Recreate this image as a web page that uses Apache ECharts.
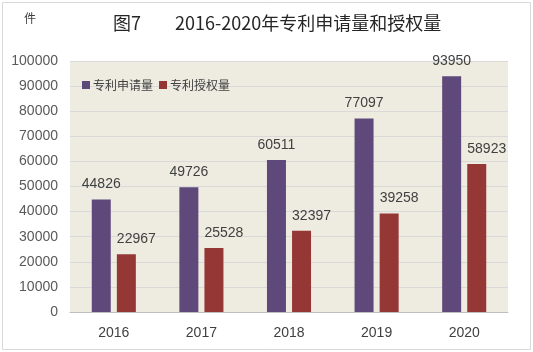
<!DOCTYPE html>
<html lang="zh">
<head>
  <meta charset="utf-8">
  <title>图7 2016-2020年专利申请量和授权量</title>
  <style>
    html, body { margin: 0; padding: 0; background: #fff; }
    #chart1 { width: 533px; height: 352px; }
  </style>
</head>
<body>

<script src="https://cdn.jsdelivr.net/npm/echarts@6/dist/echarts.min.js"></script>

<div id="chart1"></div>

<script>
  var years = ['2016', '2017', '2018', '2019', '2020'];
  var seriesNames = ['专利申请量', '专利授权量'];
  var applications = [44826, 49726, 60511, 77097, 93950];
  var grants = [22967, 25528, 32397, 39258, 58923];
  var colores = ['#5f497a', '#953735'];

  var font = '"Liberation Sans", "Noto Sans CJK SC", sans-serif';
  var cjkFont = '"Noto Sans CJK SC", sans-serif';

  var chart1 = echarts.init(document.getElementById('chart1'));

  // the label of the second bar sits a bit to the right, like in the original
  function makeSeries(name, data, dx) {
    return {
      name: name,
      type: 'bar',
      barWidth: 19,
      barGap: '32%',
      data: data,
      label: {
        show: true,
        position: 'top',
        distance: 8,
        offset: [dx, 0],
        color: '#404040',
        fontSize: 14,
        fontFamily: font
      }
    };
  }

  var option = {
    animation: false,
    color: colores,
    title: [
      {
        text: '图7',
        left: 108,
        top: 9,
        textStyle: { fontSize: 18, fontWeight: 'normal', color: '#262626', fontFamily: cjkFont }
      },
      {
        text: '2016-2020年专利申请量和授权量',
        left: 170,
        top: 9,
        textStyle: { fontSize: 18, fontWeight: 'normal', color: '#262626', fontFamily: cjkFont }
      },
      {
        text: '件',
        left: 19,
        top: 7,
        textStyle: { fontSize: 12, fontWeight: 'normal', color: '#404040', fontFamily: cjkFont }
      }
    ],
    graphic: [{
      type: 'rect',
      shape: { x: 2.5, y: 2.5, width: 528, height: 347 },
      style: { fill: 'none', stroke: '#d9d9d9', lineWidth: 1 },
      silent: true
    }],
    legend: {
      left: 77,
      top: 74,
      itemWidth: 8,
      itemHeight: 8,
      itemGap: 6,
      icon: 'rect',
      data: seriesNames,
      textStyle: { fontSize: 12, color: '#404040', fontFamily: cjkFont, padding: [0, 0, 0, -2] }
    },
    grid: {
      left: 70,
      right: 25,
      top: 61,
      bottom: 40,
      show: true,
      backgroundColor: '#eeece1',
      borderWidth: 0
    },
    xAxis: {
      type: 'category',
      data: years,
      axisTick: { show: false },
      axisLine: { lineStyle: { color: '#bfbfbf' } },
      axisLabel: { color: '#404040', fontSize: 14, margin: 14, fontFamily: font }
    },
    yAxis: {
      type: 'value',
      min: 0,
      max: 100000,
      interval: 10000,
      axisLine: { show: false },
      axisTick: { show: false },
      splitLine: { lineStyle: { color: '#d9d9d9' } },
      axisLabel: {
        color: '#595959',
        fontSize: 14,
        margin: 12,
        fontFamily: font,
        formatter: function (v) { return String(v); }
      }
    },
    series: [
      makeSeries(seriesNames[0], applications, 0),
      makeSeries(seriesNames[1], grants, 10)
    ]
  };

  chart1.setOption(option);
</script>

</body>
</html>
